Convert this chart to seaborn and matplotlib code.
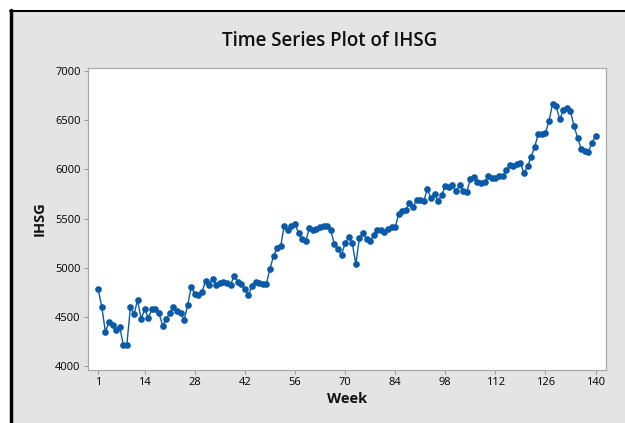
import numpy as np
import pandas as pd
import matplotlib
matplotlib.use("Agg")
import matplotlib.pyplot as plt
import seaborn as sns
from matplotlib.patches import Rectangle
from matplotlib.lines import Line2D

# weekly IHSG values
week = list(range(1, 141))
ihsg = [
    4780, 4600, 4350, 4450, 4420, 4370, 4400, 4220, 4220, 4600,
    4530, 4670, 4480, 4580, 4490, 4580, 4580, 4540, 4410, 4480,
    4540, 4600, 4560, 4540, 4470, 4620, 4810, 4730, 4720, 4750,
    4870, 4830, 4890, 4830, 4850, 4860, 4850, 4830, 4920, 4860,
    4840, 4780, 4720, 4820, 4860, 4850, 4840, 4840, 4990, 5120,
    5200, 5220, 5430, 5380, 5420, 5450, 5350, 5290, 5270, 5400,
    5380, 5390, 5410, 5420, 5420, 5380, 5240, 5190, 5130, 5250,
    5310, 5250, 5040, 5300, 5350, 5290, 5270, 5330, 5380, 5380,
    5360, 5390, 5410, 5410, 5550, 5580, 5590, 5660, 5620, 5690,
    5690, 5680, 5800, 5710, 5750, 5680, 5740, 5830, 5820, 5840,
    5780, 5840, 5780, 5770, 5900, 5920, 5870, 5860, 5870, 5930,
    5910, 5910, 5930, 5930, 5990, 6040, 6030, 6060, 6070, 5960,
    6030, 6130, 6230, 6360, 6360, 6370, 6490, 6670, 6640, 6510,
    6600, 6620, 6590, 6440, 6320, 6210, 6190, 6180, 6270, 6340,
]
x_ticks = [1, 14, 28, 42, 56, 70, 84, 98, 112, 126, 140]
y_ticks = [4000, 4500, 5000, 5500, 6000, 6500, 7000]

df = pd.DataFrame({"Week": week, "IHSG": ihsg})

sns.set_style("white")
plt.rcParams["font.family"] = ["Open Sans", "DejaVu Sans"]

fig = plt.figure(figsize=(6.25, 4.23), dpi=100)
fig.patch.set_facecolor("white")

# grey minitab-style panel with dark frame on left and top
fig.patches.append(Rectangle((0.016, 0), 0.984, 0.976, transform=fig.transFigure,
                             facecolor="#e4e4e4", edgecolor="none", zorder=-5))
fig.lines.append(Line2D([0.017, 0.017], [0, 0.976], transform=fig.transFigure,
                        color="black", lw=2.5, zorder=-4))
fig.lines.append(Line2D([0.016, 1], [0.975, 0.975], transform=fig.transFigure,
                        color="black", lw=1.5, zorder=-4))

ax = fig.add_axes([0.140, 0.125, 0.830, 0.714])
ax.set_zorder(2)
ax.set_facecolor("white")

sns.lineplot(data=df, x="Week", y="IHSG", ax=ax, color="#0b5aa8", lw=1.0,
             marker="o", markersize=4.8, markeredgewidth=0, markerfacecolor="#0b5aa8")

ax.set_xlim(-2, 143)
ax.set_ylim(3960, 7030)
ax.set_xticks(x_ticks)
ax.set_yticks(y_ticks)
ax.tick_params(axis="both", labelsize=8, length=3, width=0.6, color="#888888",
               labelcolor="black", direction="out", bottom=True, left=True, pad=2)
for s in ax.spines.values():
    s.set_color("#aaaaaa")
    s.set_linewidth(0.9)

ax.set_xlabel("Week", fontsize=10.5, fontweight="bold", labelpad=3, color="#111111")
ax.set_ylabel("IHSG", fontsize=10.5, fontweight="bold", labelpad=6, color="#111111")
fig.text(0.528, 0.903, "Time Series Plot of IHSG", ha="center", va="center",
         fontsize=13.5, fontweight="semibold", color="#111111", zorder=3)

fig.savefig("out.png", dpi=100, facecolor=fig.get_facecolor())
